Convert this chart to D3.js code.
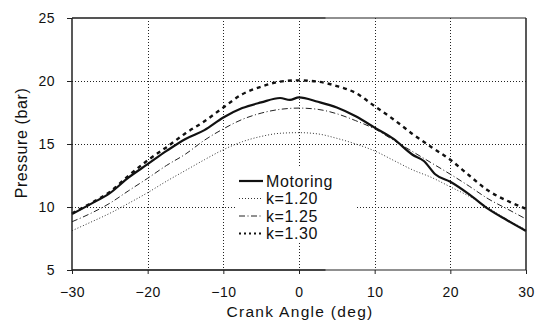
<!DOCTYPE html>
<html>
<head>
<meta charset="utf-8">
<script src="https://cdn.jsdelivr.net/npm/d3@7/dist/d3.min.js"></script>
<style>
  html, body { margin: 0; padding: 0; background: #fff; }
  svg { display: block; font-family: "Liberation Sans", Arial, sans-serif; }
</style>
</head>
<body>
<svg id="chart" width="545" height="322"></svg>
<script>
// ---- data ----
const angles = [-30,-27.5,-25,-22.5,-20,-17.5,-15,-12.5,-10,-7.5,-5,-2.5,0,2.5,5,7.5,10,12.5,15,17.5,20,22.5,25,27.5,30];
const motoringAngles = [-30,-27.5,-25,-22.5,-20,-17.5,-15,-12.5,-10,-7.5,-5,-2.5,-1.2,0,2.5,5,7.5,10,12.5,15,16.5,18,20,22.5,25,27.5,30];
const motoring = [9.44,10.25,11.1,12.35,13.4,14.45,15.4,16.1,17.1,17.85,18.3,18.65,18.5,18.7,18.35,17.9,17.2,16.3,15.4,14.15,13.65,12.6,12.0,11.0,9.85,8.95,8.1];
const k120 = [8.12,8.8,9.5,10.3,11.14,12.05,12.9,13.75,14.55,15.18,15.6,15.85,15.9,15.8,15.45,15.0,14.45,13.7,12.95,12.35,11.6,10.85,9.95,9.0,8.2];
const k125 = [8.83,9.5,10.3,11.3,12.28,13.3,14.2,15.3,16.2,16.95,17.45,17.75,17.85,17.75,17.4,16.85,16.2,15.3,14.4,13.5,12.6,11.65,10.65,9.85,9.05];
const k130 = [9.5,10.3,11.2,12.5,13.7,14.75,15.85,16.8,17.9,18.95,19.55,19.95,20.05,19.95,19.6,19.05,18.0,16.95,15.8,14.75,13.75,12.5,11.3,10.5,9.85];
const xTicks = [-30,-20,-10,0,10,20,30];
const yTicks = [5,10,15,20,25];
const seriesNames = ["Motoring","k=1.20","k=1.25","k=1.30"];
const xTitle = "Crank Angle (deg)";
const yTitle = "Pressure (bar)";

// ---- layout ----
const svg = d3.select("#chart");
const x = d3.scaleLinear().domain([-30,30]).range([72,526]);
const y = d3.scaleLinear().domain([5,25]).range([270,18]);
const ink = "#111";

// gridlines
const grid = svg.append("g").attr("stroke", "#222").attr("stroke-width", 1).attr("stroke-dasharray", "1,2");
grid.selectAll("line.v").data(xTicks.filter(d => d > -30 && d < 30)).join("line")
  .attr("x1", d => Math.round(x(d)) + 0.5).attr("x2", d => Math.round(x(d)) + 0.5)
  .attr("y1", y(25)).attr("y2", y(5));
grid.selectAll("line.h").data(yTicks.filter(d => d > 5 && d < 25)).join("line")
  .attr("x1", x(-30)).attr("x2", x(30))
  .attr("y1", d => Math.round(y(d)) + 0.5).attr("y2", d => Math.round(y(d)) + 0.5);

// series styles
const styles = [
  { w: 2.2, dash: null, color: "#111" },
  { w: 1, dash: "1,2", color: "#333" },
  { w: 1, dash: "6,2.5,1,2.5", color: "#222" },
  { w: 2.4, dash: "4,4", color: "#111" }
];
const seriesData = [
  motoringAngles.map((a, i) => [a, motoring[i]]),
  angles.map((a, i) => [a, k120[i]]),
  angles.map((a, i) => [a, k125[i]]),
  angles.map((a, i) => [a, k130[i]])
];
const line = d3.line().x(d => x(d[0])).y(d => y(d[1])).curve(d3.curveMonotoneX);

const legendG = svg.append("g");
legendG.append("rect").attr("x", 235).attr("y", 168).attr("width", 122).attr("height", 74).attr("fill", "#fff");

const order = [1, 2, 0, 3];
order.forEach(i => {
  svg.append("path").datum(seriesData[i])
    .attr("fill", "none")
    .attr("stroke", styles[i].color)
    .attr("stroke-width", styles[i].w)
    .attr("stroke-dasharray", styles[i].dash)
    .attr("stroke-linejoin", "round")
    .attr("d", line);
});

// legend entries
seriesNames.forEach((name, i) => {
  const cy = 181 + i * 17.5;
  legendG.append("line")
    .attr("x1", 239).attr("x2", 263).attr("y1", cy).attr("y2", cy)
    .attr("stroke", styles[i].color)
    .attr("stroke-width", i === 0 ? 2.2 : (i === 3 ? 2 : 1))
    .attr("stroke-dasharray", i === 3 ? "2,3" : styles[i].dash);
  legendG.append("text")
    .attr("x", 266).attr("y", cy + 5.6)
    .attr("font-size", 16).attr("letter-spacing", 0.6)
    .attr("fill", ink).text(name);
});

// frame
const frame = svg.append("g").attr("stroke", "#222").attr("fill", "none");
frame.append("line").attr("x1", x(-30)).attr("x2", x(30)).attr("y1", y(25)).attr("y2", y(25)).attr("stroke-width", 1.2);
frame.append("line").attr("x1", x(-30)).attr("x2", x(3.5)).attr("y1", y(25)).attr("y2", y(25)).attr("stroke-width", 2).attr("stroke", "#555");
frame.append("line").attr("x1", x(-30)).attr("x2", x(30)).attr("y1", y(5)).attr("y2", y(5)).attr("stroke-width", 1.2);
frame.append("line").attr("x1", x(-30)).attr("x2", x(3.5)).attr("y1", y(5)).attr("y2", y(5)).attr("stroke-width", 2).attr("stroke", "#444");
frame.append("line").attr("x1", x(-30)).attr("x2", x(-30)).attr("y1", y(25)).attr("y2", y(5)).attr("stroke-width", 1.5);
frame.append("line").attr("x1", x(30)).attr("x2", x(30)).attr("y1", y(25)).attr("y2", y(5)).attr("stroke-width", 1.5);

// axes
const yAxis = svg.append("g").attr("transform", `translate(${x(-30)},0)`)
  .call(d3.axisLeft(y).tickValues(yTicks).tickSize(5).tickSizeOuter(0).tickPadding(12));
const xAxis = svg.append("g").attr("transform", `translate(0,${y(5)})`)
  .call(d3.axisBottom(x).tickValues(xTicks).tickSize(4).tickSizeOuter(0).tickPadding(13));
[yAxis, xAxis].forEach(g => {
  g.select(".domain").remove();
  g.selectAll(".tick line").attr("stroke", "#222").attr("stroke-width", 1);
  g.selectAll(".tick text").attr("font-size", 14).attr("letter-spacing", 0.5)
    .attr("font-family", "'Liberation Sans', Arial, sans-serif").attr("fill", ink);
});

// titles
svg.append("text").attr("x", 300).attr("y", 317).attr("text-anchor", "middle")
  .attr("font-size", 15.5).attr("letter-spacing", 1.3).attr("fill", ink).text(xTitle);
svg.append("text").attr("transform", "translate(27,143) rotate(-90)").attr("text-anchor", "middle")
  .attr("font-size", 16).attr("letter-spacing", 0.6).attr("fill", ink).text(yTitle);
</script>
</body>
</html>
